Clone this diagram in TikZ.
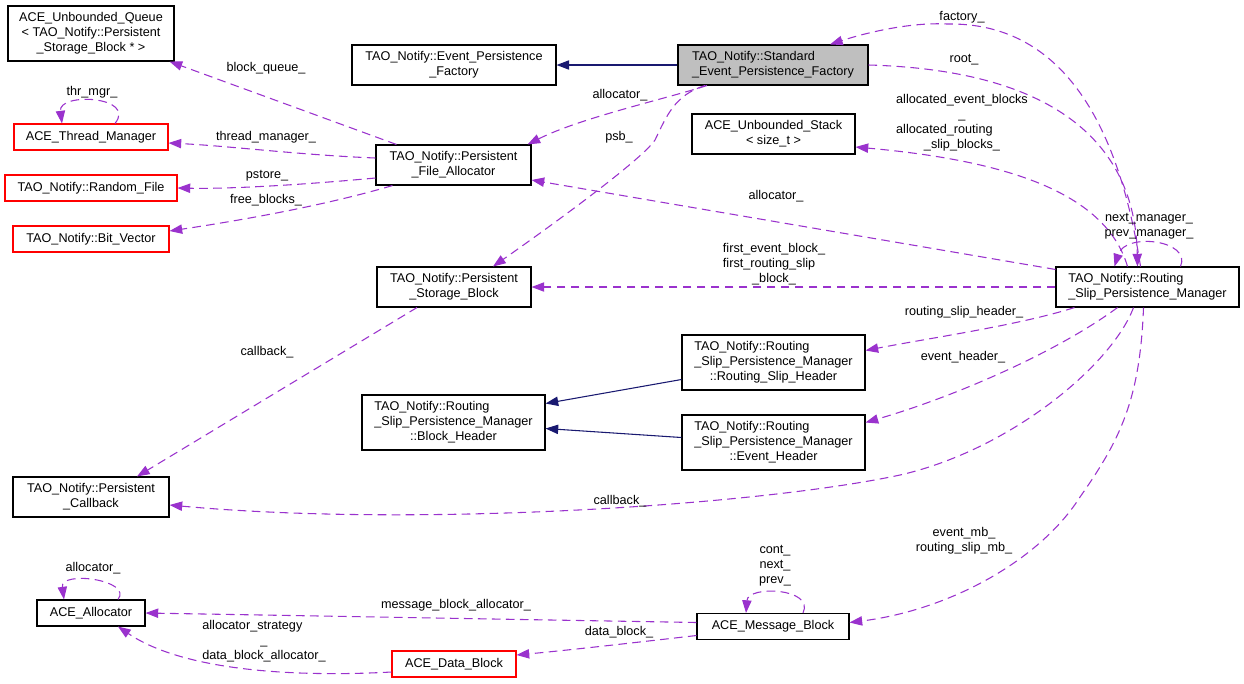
\documentclass[tikz,border=0pt]{standalone}
\usepackage{fontspec}
\setmainfont{Liberation Sans}
\usetikzlibrary{arrows.meta,calc}

\definecolor{usecolor}{HTML}{9A32CD}
\definecolor{basecolor}{HTML}{191970}
\definecolor{selfcolor}{HTML}{BFBFBF}

\newcommand{\labelfont}{\fontsize{9.5}{11.25}\selectfont}
% first line of a wrapped name, flush with the line below it
\newcommand{\firstln}[2]{\makebox[0pt][l]{#1}\phantom{#2}}
\newcommand{\rspmname}{\firstln{TAO\_Notify::Routing}{\_Slip\_Persistence\_Manager}\\\_Slip\_Persistence\_Manager}

\tikzset{
    cls/.style={draw=black, line width=0.8pt, fill=white, inner sep=0pt,
        align=center, font=\labelfont},
    undoc/.style={cls, draw=red},
    self/.style={cls, fill=selfcolor},
    uses/.style={draw=usecolor, line width=0.8pt, dash pattern=on 6.5pt off 4pt,
        -{Triangle[length=9.5pt,width=7pt]}},
    base/.style={draw=basecolor, line width=0.8pt,
        -{Triangle[length=9.5pt,width=7pt]}},
    lbl/.style={inner sep=0pt, align=center, font=\labelfont}
}

\begin{document}
\begin{tikzpicture}[x=0.75pt, y=-0.75pt]
    \def\px{0.75pt}
    \useasboundingbox (0,0) rectangle (1244,683);

    % Left column
    \node[cls, minimum width=166*\px, minimum height=55*\px] (queue) at (91,33.5)
        {ACE\_Unbounded\_Queue\\< TAO\_Notify::Persistent\\\_Storage\_Block * >};
    \node[undoc, minimum width=154*\px, minimum height=26*\px] (thrmgr) at (91,137)
        {ACE\_Thread\_Manager};
    \node[undoc, minimum width=172*\px, minimum height=26*\px] (rfile) at (91,188)
        {TAO\_Notify::Random\_File};
    \node[undoc, minimum width=156*\px, minimum height=26*\px] (bitvec) at (91,239)
        {TAO\_Notify::Bit\_Vector};
    \node[cls, minimum width=156*\px, minimum height=40*\px] (pcb) at (91,497)
        {TAO\_Notify::Persistent\\\_Callback};
    \node[cls, minimum width=108*\px, minimum height=26*\px] (alloc) at (91,613)
        {ACE\_Allocator};

    % Middle column
    \node[cls, minimum width=204*\px, minimum height=40*\px] (epf) at (454,65)
        {TAO\_Notify::Event\_Persistence\\\_Factory};
    \node[cls, minimum width=155*\px, minimum height=40*\px] (pfa) at (453.5,165)
        {TAO\_Notify::Persistent\\\_File\_Allocator};
    \node[cls, minimum width=154*\px, minimum height=40*\px] (psb) at (454,287)
        {TAO\_Notify::Persistent\\\_Storage\_Block};
    \node[cls, minimum width=183*\px, minimum height=55*\px] (bh) at (453.5,422.5)
        {\rspmname\\::Block\_Header};
    \node[undoc, minimum width=124*\px, minimum height=26*\px] (dblock) at (454,664)
        {ACE\_Data\_Block};

    % Right-middle column
    \node[self, minimum width=190*\px, minimum height=40*\px] (sepf) at (773,65)
        {\firstln{TAO\_Notify::Standard}{\_Event\_Persistence\_Factory}\\\_Event\_Persistence\_Factory};
    \node[cls, minimum width=163*\px, minimum height=40*\px] (stack) at (773.5,134)
        {ACE\_Unbounded\_Stack\\< size\_t >};
    \node[cls, minimum width=183*\px, minimum height=55*\px] (rsh) at (773.5,362.5)
        {\rspmname\\::Routing\_Slip\_Header};
    \node[cls, minimum width=183*\px, minimum height=55*\px] (eh) at (773.5,442.5)
        {\rspmname\\::Event\_Header};
    \node[cls, minimum width=152*\px, minimum height=26*\px] (mblock) at (773,626.5)
        {ACE\_Message\_Block};

    % Right column
    \node[cls, minimum width=183*\px, minimum height=40*\px] (rspm) at (1147.5,287)
        {\rspmname};

    % Inheritance
    \draw[base] (sepf.west) -- (epf.east);
    \draw[base] ($(rsh.west)+(0,17)$) -- ($(bh.east)+(0,-19)$);
    \draw[base] ($(eh.west)+(0,-5)$) -- ($(bh.east)+(0,6)$);

    % Standard factory members
    \draw[uses] ($(sepf.south)+(-66,0)$)
        .. controls (665,99) and (580,118) .. ($(pfa.north east)+(-4,0)$);
    \node[lbl] (l-allocator1) at (620,95) {allocator\_};
    \draw[uses] ($(sepf.south)+(-68,0)$)
        .. controls (675,95) and (667,115) .. (655,140)
        .. controls (640,162) and (538,235) .. ($(psb.north)+(39,0)$);
    \node[lbl] (l-psb) at (619,137) {psb\_};
    \draw[uses] (sepf.east)
        .. controls (1050,70) and (1135,140) .. ($(rspm.north)+(-10,0)$);
    \node[lbl] (l-root) at (964,60) {root\_};

    % File allocator members
    \draw[uses] ($(pfa.north west)+(21,0)$) -- ($(queue.south east)+(-5,0)$);
    \node[lbl] (l-blockqueue) at (266,68) {block\_queue\_};
    \draw[uses] ($(pfa.west)+(0,-7)$)
        .. controls (300,155) and (230,146) .. ($(thrmgr.east)+(0,6)$);
    \node[lbl] (l-threadmgr) at (266,137) {thread\_manager\_};
    \draw[uses] ($(pfa.west)+(0,13)$)
        .. controls (300,185) and (230,189) .. (rfile.east);
    \node[lbl] (l-pstore) at (267,176) {pstore\_};
    \draw[uses] ($(pfa.south west)+(17,0)$)
        .. controls (330,204) and (250,219) .. ($(bitvec.east)+(0,-8)$);
    \node[lbl] (l-freeblocks) at (266,200) {free\_blocks\_};
    \draw[uses] ($(thrmgr.north)+(24,0)$)
        .. controls (137,96) and (58,92) .. ($(thrmgr.north)+(-29,0)$);
    \node[lbl] (l-thrmgr) at (92,92) {thr\_mgr\_};

    % Persistence manager members
    \draw[uses] ($(rspm.north)+(-7,0)$)
        .. controls (1118,120) and (1060,22) .. (947,24)
        .. controls (910,22) and (865,33) .. ($(sepf.north)+(57,0)$);
    \node[lbl] (l-factory) at (962,17) {factory\_};
    \draw[uses] ($(rspm.north)+(-20,0)$)
        .. controls (1105,190) and (1000,160) .. ($(stack.east)+(0,13)$);
    \node[lbl] (l-allocated) at (962,122.5)
        {allocated\_event\_blocks\\\_\\\firstln{allocated\_routing}{allocated\_event\_blocks}\\\_slip\_blocks\_};
    \draw[uses] ($(rspm.north)+(33,0)$)
        .. controls (1192,240) and (1125,232) .. ($(rspm.north)+(-33,0)$);
    \node[lbl] (l-manager) at (1149,226) {next\_manager\_\\prev\_manager\_};
    \draw[uses] ($(rspm.north west)+(0,3)$) -- ($(pfa.east)+(0,15)$);
    \node[lbl] (l-allocator2) at (776,196) {allocator\_};
    \draw[uses] (rspm.west) -- (psb.east);
    \node[lbl] (l-firstblock) at (774,264)
        {first\_event\_block\_\\\firstln{first\_routing\_slip}{first\_event\_block\_}\\\_block\_};
    \draw[uses] ($(rspm.south west)+(19,0)$)
        .. controls (1020,325) and (930,338) .. ($(rsh.east)+(0,-12)$);
    \node[lbl] (l-rsheader) at (964,312) {routing\_slip\_header\_};
    \draw[uses] ($(rspm.south)+(-30,0)$)
        .. controls (1060,350) and (960,395) .. ($(eh.east)+(0,-20)$);
    \node[lbl] (l-evheader) at (963,357) {event\_header\_};
    \draw[uses] ($(rspm.south)+(-14,0)$)
        .. controls (1112,365) and (1010,450) .. (900,475)
        .. controls (760,505) and (420,528) .. ($(pcb.east)+(0,8)$);
    \node[lbl] (l-callback1) at (620,501) {callback\_};
    \draw[uses] ($(rspm.south)+(-4,0)$)
        .. controls (1140,400) and (1120,440) .. (1080,497)
        .. controls (1040,560) and (950,610) .. ($(mblock.east)+(0,-4)$);
    \node[lbl] (l-eventmb) at (964,541) {event\_mb\_\\routing\_slip\_mb\_};

    % Storage block member
    \draw[uses] ($(psb.south)+(-37,0)$) -- ($(pcb.north)+(46,0)$);
    \node[lbl] (l-callback2) at (267,352) {callback\_};

    % Message block members
    \draw[uses] ($(mblock.north)+(30,0)$)
        .. controls (815,588) and (748,585) .. ($(mblock.north)+(-27,0)$);
    \node[lbl] (l-msgblock) at (775,566) {cont\_\\next\_\\prev\_};
    \draw[uses] ($(mblock.west)+(0,-4)$) -- (alloc.east);
    \node[lbl] (l-mballoc) at (456,605) {message\_block\_allocator\_};
    \draw[uses] ($(mblock.west)+(0,9)$)
        .. controls (640,642) and (570,650) .. ($(dblock.east)+(0,-9)$);
    \node[lbl] (l-datablock) at (619,632) {data\_block\_};

    % Data block and allocator members
    \draw[uses] ($(dblock.west)+(0,8)$)
        .. controls (300,677) and (185,672) .. ($(alloc.south)+(27,0)$);
    \node[lbl] (l-strategy) at (264,641)
        {\firstln{allocator\_strategy}{data\_block\_allocator\_}\\\_\\data\_block\_allocator\_};
    \draw[uses] ($(alloc.north)+(27,0)$)
        .. controls (133,580) and (60,570) .. ($(alloc.north)+(-27,0)$);
    \node[lbl] (l-allocself) at (93,568) {allocator\_};

\end{tikzpicture}
\end{document}
